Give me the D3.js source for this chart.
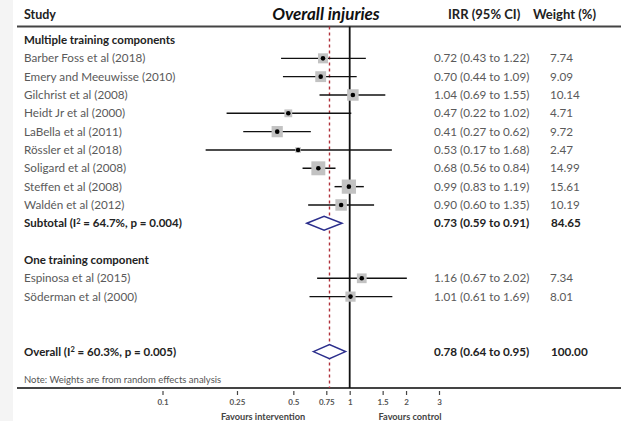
<!DOCTYPE html>
<html>
<head>
<meta charset="utf-8">
<script src="https://cdnjs.cloudflare.com/ajax/libs/d3/7.8.5/d3.min.js"></script>
<style>
  body { margin: 0; background: #fff; }
  svg { font-family: Lato, "Open Sans", sans-serif; }
</style>
</head>
<body>
<div id="chart"></div>
<script>
// study level data
const group1Names = ['Barber Foss et al (2018)', 'Emery and Meeuwisse (2010)', 'Gilchrist et al (2008)',
  'Heidt Jr et al (2000)', 'LaBella et al (2011)', 'Rössler et al (2018)', 'Soligard et al (2008)',
  'Steffen et al (2008)', 'Waldén et al (2012)'];
const group1IRR = [0.72, 0.70, 1.04, 0.47, 0.41, 0.53, 0.68, 0.99, 0.90];
const group1Low = [0.43, 0.44, 0.69, 0.22, 0.27, 0.17, 0.56, 0.83, 0.60];
const group1High = [1.22, 1.09, 1.55, 1.02, 0.62, 1.68, 0.84, 1.19, 1.35];
const group1Weight = [7.74, 9.09, 10.14, 4.71, 9.72, 2.47, 14.99, 15.61, 10.19];

const group2Names = ['Espinosa et al (2015)', 'Söderman et al (2000)'];
const group2IRR = [1.16, 1.01];
const group2Low = [0.67, 0.61];
const group2High = [2.02, 1.69];
const group2Weight = [7.34, 8.01];

// pooled estimates: [irr, low, high, weight]
const subtotal = [0.73, 0.59, 0.91, 84.65];
const overall = [0.78, 0.64, 0.95, 100.00];
const subtotalHet = ['64.7%', '0.004'];
const overallHet = ['60.3%', '0.005'];

const tickValues = [0.1, 0.25, 0.5, 0.75, 1, 1.5, 2, 3];
const tickLabels = ['0.1', '0.25', '0.5', '0.75', '1', '1.5', '2', '3'];

const W = 623, H = 421;
const svg = d3.select('#chart').append('svg')
  .attr('width', W)
  .attr('height', H);

// build rows in display order
const rows = [];
rows.push({ type: 'head', label: 'Multiple training components' });
group1Names.forEach((n, i) => rows.push({ type: 'study', label: n, est: group1IRR[i], lo: group1Low[i], hi: group1High[i], w: group1Weight[i] }));
rows.push({ type: 'pooled', label: 'Subtotal', het: subtotalHet, est: subtotal[0], lo: subtotal[1], hi: subtotal[2], w: subtotal[3] });
rows.push({ type: 'blank' });
rows.push({ type: 'head', label: 'One training component' });
group2Names.forEach((n, i) => rows.push({ type: 'study', label: n, est: group2IRR[i], lo: group2Low[i], hi: group2High[i], w: group2Weight[i] }));
rows.push({ type: 'blank' });
rows.push({ type: 'blank' });
rows.push({ type: 'pooled', label: 'Overall', het: overallHet, est: overall[0], lo: overall[1], hi: overall[2], w: overall[3] });

const x = d3.scaleLog().domain([0.1, 3]).range([162.5, 439]);
const y = d3.scaleLinear().domain([0, rows.length - 1]).range([40, 40 + 18.33 * (rows.length - 1)]);
const f2 = d3.format('.2f');

// faint left strip like the source image
svg.append('rect').attr('x', 0).attr('y', 0).attr('width', 13).attr('height', H).attr('fill', '#f4f4f4');

const topY = 26.5, axisY = 388;

// header
svg.append('text').attr('x', 24).attr('y', 19)
  .attr('font-size', 12.5).attr('font-weight', 700).attr('fill', '#222').text('Study');
svg.append('text').attr('x', 326).attr('y', 20).attr('text-anchor', 'middle')
  .attr('font-size', 17).attr('font-weight', 700).attr('font-style', 'italic').attr('fill', '#111')
  .text('Overall injuries');
svg.append('text').attr('x', 448).attr('y', 19)
  .attr('font-size', 13).attr('font-weight', 700).attr('fill', '#222').text('IRR (95% CI)');
svg.append('text').attr('x', 533).attr('y', 19)
  .attr('font-size', 13).attr('font-weight', 700).attr('fill', '#222').text('Weight (%)');

svg.append('line').attr('x1', 17).attr('x2', 621).attr('y1', topY).attr('y2', topY)
  .attr('stroke', '#444').attr('stroke-width', 2);
svg.append('line').attr('x1', 17).attr('x2', 621).attr('y1', axisY).attr('y2', axisY)
  .attr('stroke', '#444').attr('stroke-width', 2);

// reference lines
svg.append('line').attr('x1', x(1)).attr('x2', x(1)).attr('y1', topY).attr('y2', axisY)
  .attr('stroke', '#111').attr('stroke-width', 1.8);
svg.append('line').attr('x1', x(overall[0])).attr('x2', x(overall[0])).attr('y1', topY).attr('y2', axisY)
  .attr('stroke', '#b0303a').attr('stroke-width', 1.4).attr('stroke-dasharray', '3,3');

// row labels
const rowG = svg.selectAll('g.row').data(rows).enter().append('g')
  .attr('class', 'row')
  .attr('transform', (d, i) => 'translate(0,' + y(i) + ')');

rowG.filter(d => d.type === 'head').append('text')
  .attr('x', 24).attr('dy', '0.35em')
  .attr('font-size', 11.5).attr('font-weight', 700).attr('fill', '#222')
  .text(d => d.label);

const studyRows = rowG.filter(d => d.type === 'study');
studyRows.append('text')
  .attr('x', 24).attr('dy', '0.35em')
  .attr('font-size', 11.7).attr('fill', '#5a5a5a')
  .text(d => d.label);
studyRows.append('text')
  .attr('x', 434).attr('dy', '0.35em')
  .attr('font-size', 11.7).attr('fill', '#5a5a5a')
  .text(d => f2(d.est) + ' (' + f2(d.lo) + ' to ' + f2(d.hi) + ')');
studyRows.append('text')
  .attr('x', 550).attr('dy', '0.35em')
  .attr('font-size', 11.7).attr('fill', '#5a5a5a')
  .text(d => f2(d.w));

// study markers
studyRows.append('line')
  .attr('x1', d => x(d.lo)).attr('x2', d => x(d.hi))
  .attr('stroke', '#111').attr('stroke-width', 1.4);
studyRows.append('rect')
  .attr('x', d => x(d.est) - 1.8 * Math.sqrt(d.w))
  .attr('y', d => -1.8 * Math.sqrt(d.w))
  .attr('width', d => 3.6 * Math.sqrt(d.w))
  .attr('height', d => 3.6 * Math.sqrt(d.w))
  .attr('fill', '#c2c2c2');
studyRows.append('circle')
  .attr('cx', d => x(d.est)).attr('r', 2.3).attr('fill', '#000');

// pooled rows
const pooledRows = rowG.filter(d => d.type === 'pooled');
const pl = pooledRows.append('text')
  .attr('x', 24).attr('dy', '0.35em')
  .attr('font-size', 11.5).attr('font-weight', 700).attr('fill', '#222');
pl.append('tspan').text(d => d.label + ' (I');
pl.append('tspan').attr('font-size', 7.5).attr('dy', '-0.45em').text('2');
pl.append('tspan').attr('dy', '0.3em').text(d => ' = ' + d.het[0] + ', p = ' + d.het[1] + ')');
pooledRows.append('text')
  .attr('x', 434).attr('dy', '0.35em')
  .attr('font-size', 11.7).attr('font-weight', 700).attr('fill', '#222')
  .text(d => f2(d.est) + ' (' + f2(d.lo) + ' to ' + f2(d.hi) + ')');
pooledRows.append('text')
  .attr('x', 551).attr('dy', '0.35em')
  .attr('font-size', 11.7).attr('font-weight', 700).attr('fill', '#222')
  .text(d => f2(d.w));
pooledRows.append('path')
  .attr('d', d => 'M' + x(d.lo) + ',0L' + x(d.est) + ',-7L' + x(d.hi) + ',0L' + x(d.est) + ',7Z')
  .attr('fill', '#fff').attr('stroke', '#2b2e8c').attr('stroke-width', 1.5);

// note
svg.append('text').attr('x', 24).attr('y', 383)
  .attr('font-size', 9.5).attr('fill', '#555')
  .text('Note: Weights are from random effects analysis');

// x axis
const xAxis = d3.axisBottom(x)
  .tickValues(tickValues)
  .tickFormat((d, i) => tickLabels[i])
  .tickSize(4)
  .tickPadding(4);
const gX = svg.append('g')
  .attr('transform', 'translate(0,391)')
  .call(xAxis);
gX.select('.domain').remove();
gX.selectAll('.tick line').attr('stroke', '#444').attr('stroke-width', 1.2);
gX.selectAll('.tick text')
  .attr('font-family', 'Lato, sans-serif')
  .attr('font-size', 8).attr('font-weight', 700).attr('fill', '#555');

svg.append('text').attr('x', 263).attr('y', 420).attr('text-anchor', 'middle')
  .attr('font-size', 9.2).attr('font-weight', 700).attr('fill', '#444')
  .text('Favours intervention');
svg.append('text').attr('x', 410).attr('y', 420).attr('text-anchor', 'middle')
  .attr('font-size', 9.2).attr('font-weight', 700).attr('fill', '#444')
  .text('Favours control');
</script>
</body>
</html>
